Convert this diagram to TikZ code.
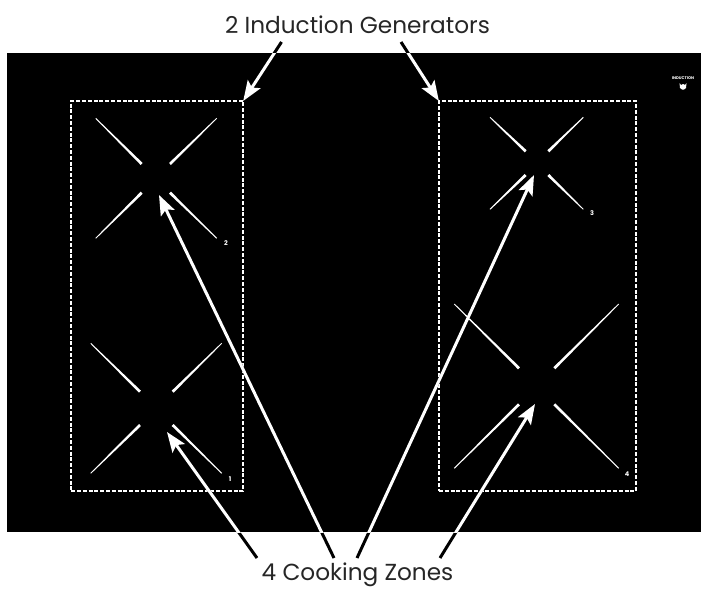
\documentclass[tikz,border=0pt]{standalone}
\usepackage{fontspec}
\setmainfont{Poppins}
\usetikzlibrary{arrows.meta,calc}

\tikzset{
    panel/.style={fill=black},
    genbox/.style={draw=white, line width=2.2pt, dash pattern=on 4pt off 1.8pt, inner sep=0pt, outer sep=0pt},
    pointer/.style={line width=3pt, -{Stealth[length=20pt,width=15pt,inset=4pt]}},
    caption/.style={font=\fontsize{23.2}{26}\selectfont, text=black!85, anchor=base},
    zonenum/.style={font=\bfseries\fontsize{6.5}{7}\selectfont, text=white, inner sep=0pt}
}

% one tapered burner stroke, wide end at the second point
\newcommand{\zonestroke}[2]{
    \fill[white] ($(#1)!0.45pt!90:(#2)$) -- ($(#2)!1.4pt!-90:(#1)$) -- ($(#2)!1.4pt!90:(#1)$) -- ($(#1)!0.45pt!-90:(#2)$) -- cycle;
}

\begin{document}
\begin{tikzpicture}[x=1pt,y=-1pt]
    \useasboundingbox (0,0) rectangle (701,589);

    % Cooktop
    \fill[panel] (7,53) rectangle (701,532);

    % Generator boxes
    \node[genbox, minimum width=172pt, minimum height=390pt] (genL) at (157.2,296) {};
    \node[genbox, minimum width=197pt, minimum height=390pt] (genR) at (537.4,296) {};

    % Burner marks: outer corners and inner corners of each zone
    \foreach \xa/\xb/\xc/\xd/\ya/\yb/\yc/\yd in {
        95.7/141.7/170/216.7/118.3/164/192.7/238.3,
        90.7/140/172.7/221.7/343.3/391.7/425/473.3,
        490/525.7/548.3/583.3/117.3/151.3/175/209.3,
        454.3/519/554.3/618.7/304/368.3/404.3/468.3} {
        \zonestroke{\xa,\ya}{\xb,\yb}
        \zonestroke{\xd,\ya}{\xc,\yb}
        \zonestroke{\xa,\yd}{\xb,\yc}
        \zonestroke{\xd,\yd}{\xc,\yc}
    }

    % Zone numbers
    \node[zonenum] (num1) at (230,479) {1};
    \node[zonenum] (num2) at (226,243) {2};
    \node[zonenum] (num3) at (592,213) {3};
    \node[zonenum] (num4) at (627,474) {4};

    % Induction badge
    \node[font=\bfseries\fontsize{3.9}{4}\selectfont, text=white, inner sep=0pt] (badge) at (683,78) {INDUCTION};
    \fill[white] (679.5,83) -- (681,85) -- (683,84) -- (685,85) -- (686.5,83) -- (686,88) -- (684,89.5) -- (682,89.5) -- (680,88) -- cycle;

    % Captions
    \node[caption] (gens) at (357.5,33) {2 Induction Generators};
    \node[caption] (zones) at (357.5,580) {4 Cooking Zones};

    % Pointer ends
    \coordinate (tailL) at (281.5,42);
    \coordinate (tailR) at (401,42);
    \coordinate (tailA) at (257,558);
    \coordinate (tailB) at (334,558);
    \coordinate (tailC) at (357,558);
    \coordinate (tailD) at (440,558);
    \coordinate (tipA) at (167,432);
    \coordinate (tipB) at (159,195);
    \coordinate (tipC) at (534,175);
    \coordinate (tipD) at (535,404);

    % Pointers: black on the paper, white on the cooktop
    \foreach \from/\to in {tailL/genL.north east, tailR/genR.north west, tailA/tipA, tailB/tipB, tailC/tipC, tailD/tipD} {
        \draw[pointer, black, shorten >=30pt] (\from) -- (\to);
    }
    \begin{scope}
        \clip (7,53) rectangle (701,532);
        \foreach \from/\to in {tailL/genL.north east, tailR/genR.north west, tailA/tipA, tailB/tipB, tailC/tipC, tailD/tipD} {
            \draw[pointer, white] (\from) -- (\to);
        }
    \end{scope}
\end{tikzpicture}
\end{document}
